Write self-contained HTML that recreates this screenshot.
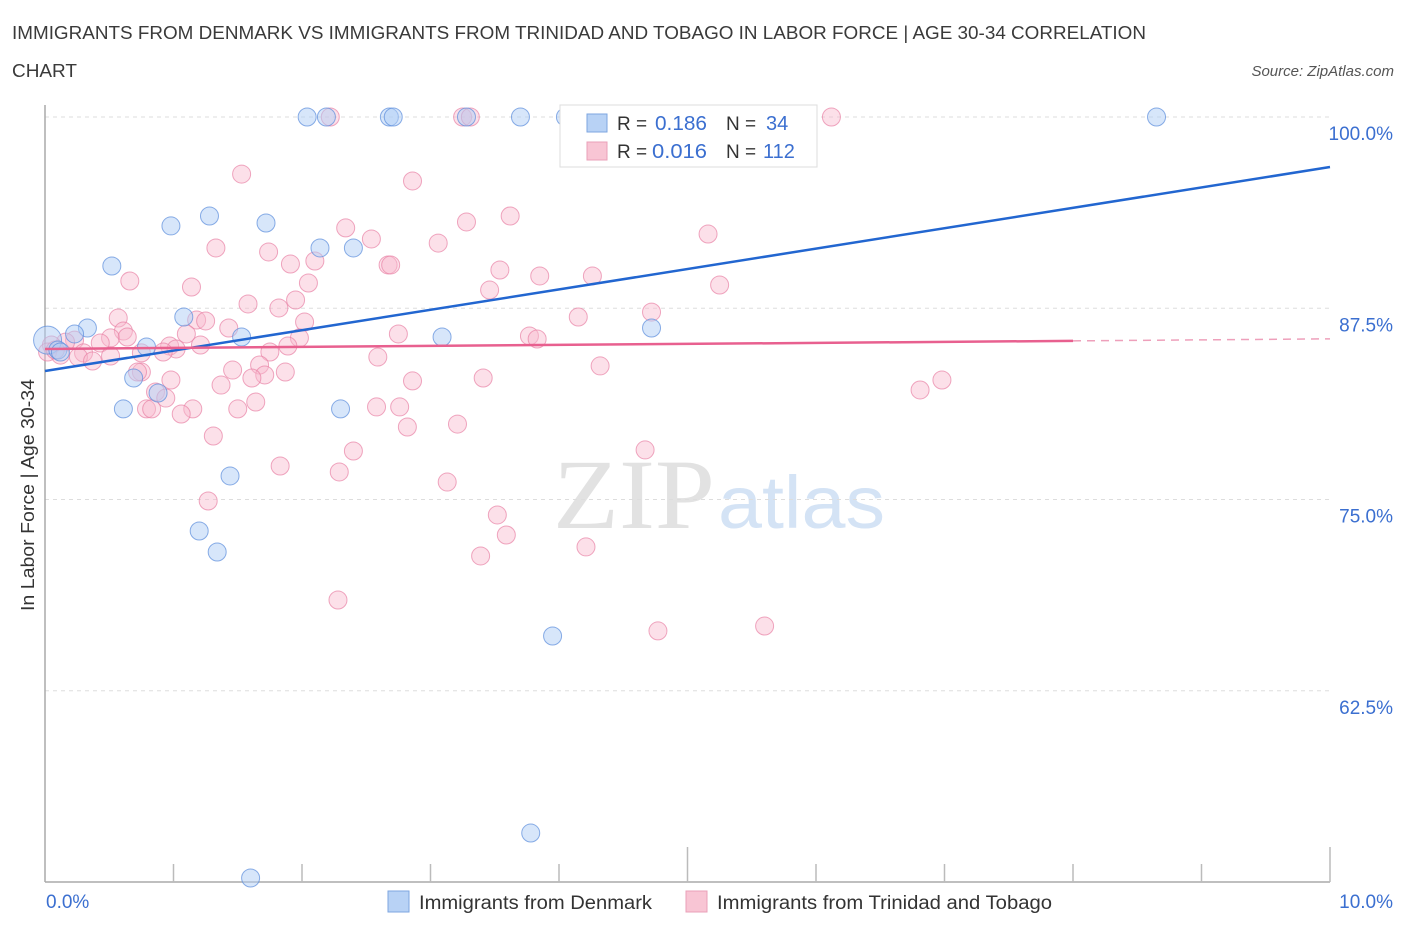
<!DOCTYPE html>
<html><head><meta charset="utf-8">
<style>
body{margin:0;background:#fff;font-family:"Liberation Sans",sans-serif;}
#wrap{position:relative;width:1406px;height:930px;overflow:hidden;}
</style></head>
<body>
<div id="wrap">
<svg id="svg" width="1406" height="930" xmlns="http://www.w3.org/2000/svg">
<text x="12" y="39" font-size="18" fill="#3a3a3a" textLength="1134" lengthAdjust="spacingAndGlyphs">IMMIGRANTS FROM DENMARK VS IMMIGRANTS FROM TRINIDAD AND TOBAGO IN LABOR FORCE | AGE 30-34 CORRELATION</text>
<text x="12" y="77" font-size="18" fill="#3a3a3a" textLength="65" lengthAdjust="spacingAndGlyphs">CHART</text>
<text x="1394" y="76" font-size="15" fill="#555" font-style="italic" text-anchor="end">Source: ZipAtlas.com</text>
<g>
<text x="553" y="528" font-size="100" fill="#e2e2e2" font-family="Liberation Serif,serif" textLength="162" lengthAdjust="spacingAndGlyphs">ZIP</text>
<text x="718" y="528" font-size="74" fill="#d4e3f5" textLength="167" lengthAdjust="spacingAndGlyphs">atlas</text>
</g>
<g id="grid"></g>
<g id="axes"></g>
<g id="pts"></g>
<g id="trend"></g>
<g>
<rect x="560" y="105" width="257" height="62" fill="#fff" stroke="#ddd"/>
<rect x="587" y="114" width="20" height="18" fill="#b8d2f5" stroke="#7ea6e0"/>
<text x="617" y="130" font-size="19" fill="#333">R =</text>
<text x="655" y="130" font-size="20" fill="#3b6fd0" textLength="52" lengthAdjust="spacingAndGlyphs">0.186</text>
<text x="726" y="130" font-size="19" fill="#333">N =</text>
<text x="766" y="130" font-size="20" fill="#3b6fd0">34</text>
<rect x="587" y="142" width="20" height="18" fill="#f8c5d4" stroke="#eaa0b8"/>
<text x="617" y="158" font-size="19" fill="#333">R =</text>
<text x="652" y="158" font-size="20" fill="#3b6fd0" textLength="55" lengthAdjust="spacingAndGlyphs">0.016</text>
<text x="726" y="158" font-size="19" fill="#333">N =</text>
<text x="763" y="158" font-size="20" fill="#3b6fd0">112</text>
</g>
<g>
<rect x="388" y="891" width="21" height="21" fill="#b8d2f5" stroke="#7ea6e0"/>
<text x="419" y="909" font-size="19" fill="#333" textLength="233" lengthAdjust="spacingAndGlyphs">Immigrants from Denmark</text>
<rect x="686" y="891" width="21" height="21" fill="#f8c5d4" stroke="#eaa0b8"/>
<text x="717" y="909" font-size="19" fill="#333" textLength="335" lengthAdjust="spacingAndGlyphs">Immigrants from Trinidad and Tobago</text>
</g>
<text transform="translate(34,495) rotate(-90)" font-size="18" fill="#333" text-anchor="middle" textLength="232" lengthAdjust="spacingAndGlyphs">In Labor Force | Age 30-34</text>
</svg>
</div>
<script>
const blueX=[2.04,2.19,2.68,2.71,3.28,3.70,4.05,8.65,0.98,1.28,1.72,2.14,2.40,0.52,0.02,0.33,0.23,0.10,0.12,0.79,1.08,1.53,3.09,4.72,0.69,0.61,0.88,2.30,1.44,1.20,1.34,3.95,3.78,1.60];
const blueY=[100,100,100,100,100,100,100,100,92.88,93.53,93.07,91.44,91.44,90.26,85.42,86.21,85.82,84.77,84.64,84.97,86.93,85.62,85.62,86.21,82.94,80.92,81.96,80.92,76.54,72.94,71.57,66.08,53.20,50.26];
const pinkX=[2.22,3.25,3.31,6.12,1.53,2.86,3.28,3.62,2.34,5.16,1.33,1.74,2.54,3.06,1.91,2.10,2.67,2.69,3.54,3.85,4.26,0.66,1.14,2.05,3.46,5.25,1.58,1.95,1.82,0.57,1.18,1.25,2.02,4.15,4.72,1.43,0.61,1.10,2.75,3.77,3.83,1.98,0.51,0.64,0.43,0.23,0.16,0.97,1.21,1.89,1.02,0.92,0.30,0.51,1.75,2.59,0.12,0.05,0.26,0.37,0.75,0.02,0.08,1.67,4.32,1.46,0.75,0.72,1.71,1.87,1.61,2.86,1.37,0.98,3.41,6.81,6.98,0.86,0.94,1.64,2.58,2.76,0.79,0.83,1.15,1.06,1.50,2.82,3.21,1.31,2.40,4.67,1.83,2.29,3.13,1.27,3.52,3.59,3.39,4.21,2.28,4.77,5.60];
const pinkY=[100,100,100,100,96.27,95.82,93.14,93.53,92.75,92.35,91.44,91.18,92.03,91.76,90.39,90.59,90.33,90.33,90.00,89.61,89.61,89.28,88.89,89.15,88.69,89.02,87.78,88.04,87.52,86.86,86.73,86.67,86.60,86.93,87.25,86.21,86.01,85.82,85.82,85.69,85.49,85.56,85.56,85.62,85.23,85.42,85.29,85.03,85.10,85.03,84.84,84.64,84.58,84.38,84.64,84.31,84.44,85.10,84.31,84.05,84.58,84.64,84.77,83.79,83.73,83.46,83.33,83.33,83.14,83.33,82.94,82.75,82.48,82.81,82.94,82.16,82.81,82.03,81.63,81.37,81.05,81.05,80.92,80.92,80.92,80.59,80.92,79.74,79.93,79.15,78.17,78.24,77.19,76.80,76.14,74.90,73.99,72.68,71.31,71.90,68.43,66.41,66.73];
const yTicks=[100,87.5,75,62.5];
const yTickLabels=["100.0%","87.5%","75.0%","62.5%"];
const xTickLabels=["0.0%","10.0%"];
const blueTrend=[83.4,96.73];
const pinkTrend=[84.84,85.5];
const pinkSolidEnd=8;

const NS="http://www.w3.org/2000/svg";
const X0=45,X1=1330,YTOP=117,YBOT=882;
function sx(v){return X0+(v/10)*(X1-X0);}
function sy(v){return YTOP+(100-v)*15.3;}
function mk(tag,attrs,parent){const e=document.createElementNS(NS,tag);for(const k in attrs)e.setAttribute(k,attrs[k]);parent.appendChild(e);return e;}
const grid=document.getElementById('grid'),axes=document.getElementById('axes'),pts=document.getElementById('pts'),trend=document.getElementById('trend');
yTicks.forEach((t,i)=>{
  const l=mk('line',{x1:X0,x2:X1,y1:sy(t),y2:sy(t),stroke:'#ddd','stroke-dasharray':'4,4'},grid);
  
  
  const tx=mk('text',{x:1393,y:sy(t)+23,'font-size':19,fill:'#3b6fd0','text-anchor':'end'},axes);
  tx.textContent=yTickLabels[i];
  
  
});
const ax=mk('line',{x1:X0,x2:X0,y1:105,y2:YBOT,stroke:'#aaa','stroke-width':1.5},axes);


const bx=mk('line',{x1:X0,x2:X1,y1:YBOT,y2:YBOT,stroke:'#aaa','stroke-width':1.5},axes);


for(let i=1;i<=10;i++){
  const tall=(i===5||i===10);
  const t=mk('line',{x1:sx(i),x2:sx(i),y1:tall?847:864,y2:YBOT,stroke:'#bbb','stroke-width':1.5},axes);
  
  
}
[[0,'start',46],[10,'end',1393]].forEach((d,i)=>{
  const t=mk('text',{x:d[2],y:908,'font-size':19,fill:'#3b6fd0','text-anchor':d[1]},axes);
  t.textContent=xTickLabels[i];
  
  
});
pinkX.forEach((x,i)=>{
  const c=mk('circle',{cx:sx(x),cy:sy(pinkY[i]),r:9,fill:'rgba(248,187,207,0.45)',stroke:'rgba(232,130,165,0.7)','stroke-width':1},pts);
  
  
});
blueX.forEach((x,i)=>{
  const c=mk('circle',{cx:sx(x),cy:sy(blueY[i]),r:i===14?14:9,fill:'rgba(176,205,245,0.5)',stroke:'rgba(90,140,220,0.7)','stroke-width':1},pts);
  
  
});
const bl=mk('line',{x1:sx(0),y1:sy(blueTrend[0]),x2:sx(10),y2:sy(blueTrend[1]),stroke:'#2266d0','stroke-width':2.5},trend);


const pe=pinkTrend[0]+(pinkTrend[1]-pinkTrend[0])*pinkSolidEnd/10;
const pl=mk('line',{x1:sx(0),y1:sy(pinkTrend[0]),x2:sx(pinkSolidEnd),y2:sy(pe),stroke:'#e8608f','stroke-width':2.5},trend);


const pd=mk('line',{x1:sx(pinkSolidEnd),y1:sy(pe),x2:sx(10),y2:sy(pinkTrend[1]),stroke:'#eea0bb','stroke-width':1.5,'stroke-dasharray':'8,6'},trend);


</script>
</body></html>
